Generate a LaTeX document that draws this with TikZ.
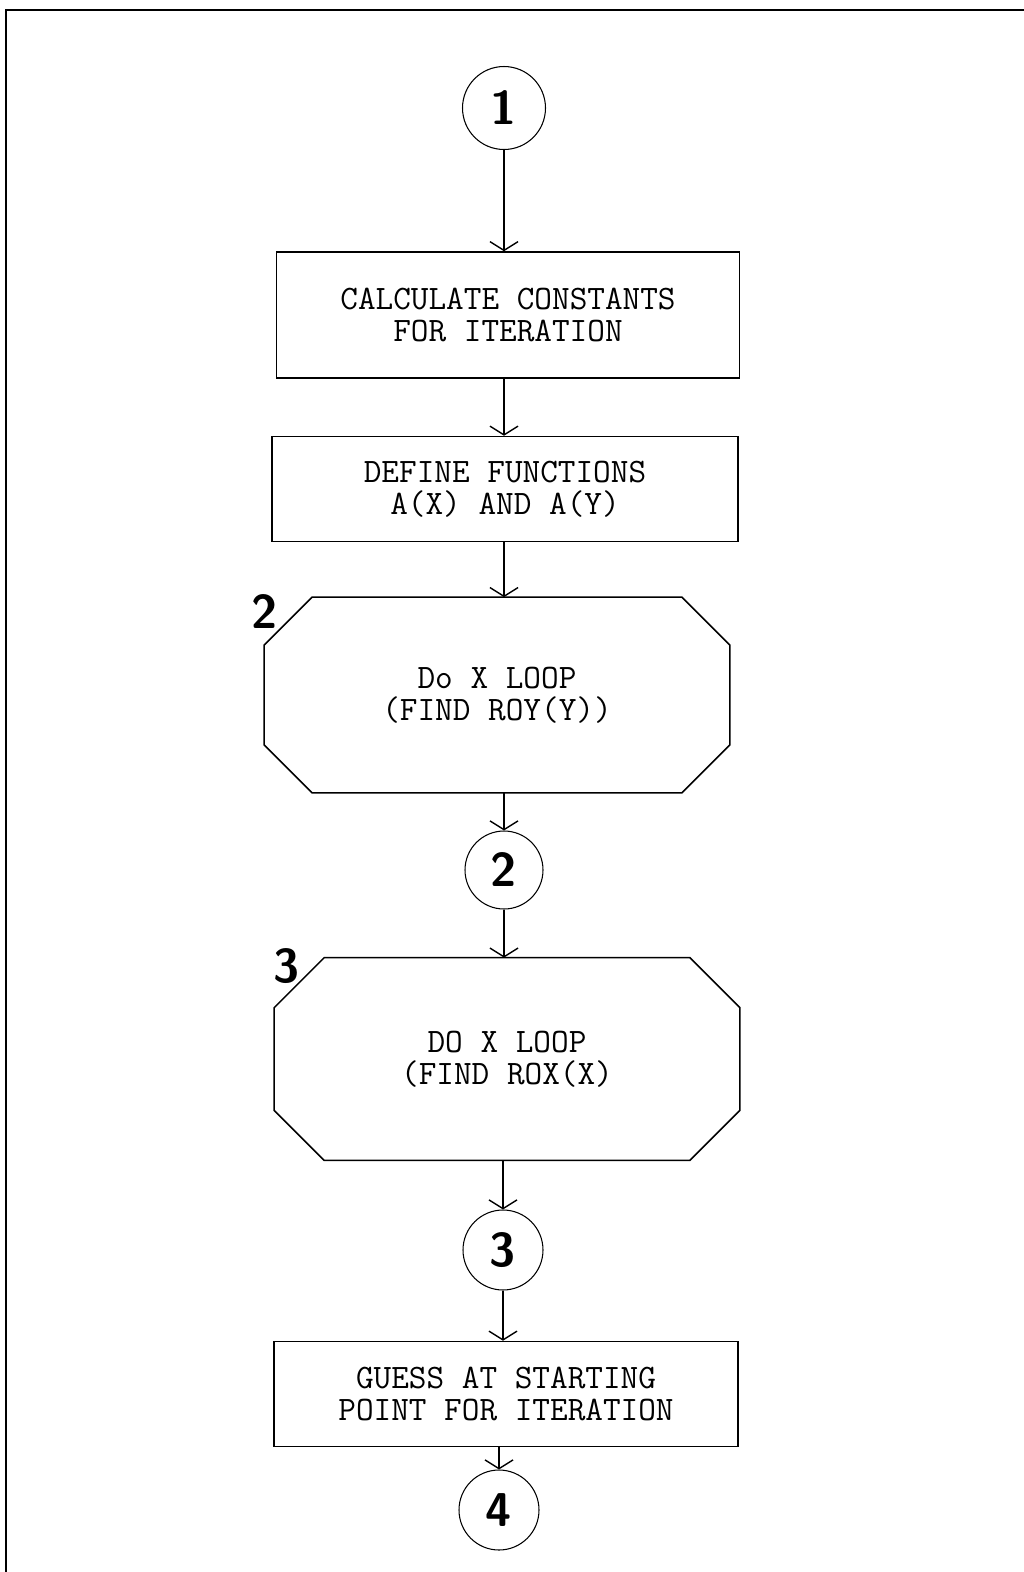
\documentclass[tikz,border=0pt]{standalone}
\usepackage{fontspec}
\usepackage{tikz}
\usetikzlibrary{arrows.meta}
\usetikzlibrary{positioning}

% octagon drawn round a (blank) node: #1 node name, #2 corner cut
\newcommand{\octpath}[2]{%
    \draw[line width=0.9pt] ([xshift=#2]#1.north west) -- ([xshift=-#2]#1.north east)
        -- ([yshift=-#2]#1.north east) -- ([yshift=#2]#1.south east)
        -- ([xshift=-#2]#1.south east) -- ([xshift=#2]#1.south west)
        -- ([yshift=#2]#1.south west) -- ([yshift=-#2]#1.north west) -- cycle;}

\begin{document}
\begin{tikzpicture}[x=0.02cm,y=-0.02cm,
    procbox/.style={draw,line width=0.9pt,minimum width=9.28cm,minimum height=2.1cm,
        align=center,font={\ttfamily\fontsize{19.5}{18}\selectfont}},
    octbox/.style={minimum width=9.3cm,minimum height=3.9cm,
        align=center,font={\ttfamily\fontsize{19.5}{18}\selectfont}},
    onpage/.style={circle,draw,line width=0.6pt,minimum size=1.6cm,inner sep=0pt,
        font={\sffamily\bfseries\fontsize{27}{27}\selectfont}},
    looplabel/.style={inner sep=0pt,font={\sffamily\bfseries\fontsize{27}{27}\selectfont}},
    flow/.style={line width=0.8pt,-{Straight Barb[length=5pt,width=16pt]}}]
    \useasboundingbox (0,0) rectangle (1024,1572);
    \draw[line width=1.3pt] (6,1572) -- (6,10) -- (1024,10);

    \node[onpage,minimum size=1.66cm] (c1) at (504,108) {1};
    \node[procbox,minimum height=2.52cm,minimum width=9.26cm] (calc) at (508,315)
        {CALCULATE CONSTANTS\\FOR ITERATION};
    \node[procbox,minimum width=9.32cm] (deffn) at (505,489)
        {DEFINE FUNCTIONS\\A(X) AND A(Y)};

    \node[octbox] (xloopa) at (497,695) {Do X LOOP\\(FIND ROY(Y))};
    \octpath{xloopa}{0.96cm}
    \node[looplabel] (la) at (265,612) {2};

    \node[onpage,minimum size=1.56cm] (c2) at (504,870) {2};

    \node[octbox,minimum height=4.04cm] (xloopb) at (507,1059) {DO X LOOP\\(FIND ROX(X)};
    \octpath{xloopb}{1.0cm}
    \node[looplabel] (lb) at (287,966) {3};

    \node[onpage] (c3) at (503,1250) {3};
    \node[procbox] (guess) at (506,1394)
        {GUESS AT STARTING\\POINT FOR ITERATION};
    \node[onpage] (c4) at (499,1510) {4};

\draw [flow] (c1.south) -- (c1.south |- calc.north);
\draw [flow] (c1.south |- calc.south) -- (c1.south |- deffn.north);
\draw [flow] (c1.south |- deffn.south) -- (c1.south |- xloopa.north);
\draw [flow] (c2.north |- xloopa.south) -- (c2.north);
\draw [flow] (c2.south) -- (c2.south |- xloopb.north);
\draw [flow] (c3.north |- xloopb.south) -- (c3.north);
\draw [flow] (c3.south) -- (c3.south |- guess.north);
\draw [flow] (c4.north |- guess.south) -- (c4.north);
\end{tikzpicture}
\end{document}
